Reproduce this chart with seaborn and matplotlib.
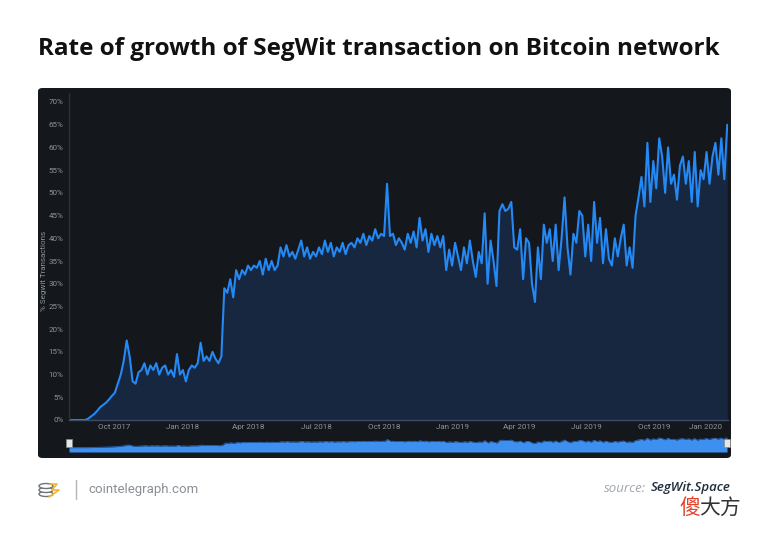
import numpy as np
import pandas as pd
import seaborn as sns
import matplotlib.pyplot as plt
from matplotlib.patches import FancyBboxPatch, Rectangle, Ellipse
from matplotlib.ticker import FuncFormatter

# % of SegWit transactions, one value every 4 days
seg_2017 = [0, 0, 0, 0, 0, 0,
            0, 0.3, 0.8, 1.3, 2, 2.8, 3.3, 3.8, 4.5, 5.3,
            6, 8, 10, 13, 17.5, 14, 8.5, 8,
            10.5, 11, 12.5, 10, 12, 11, 12.5,
            10, 11.5, 12, 10, 11, 9.5, 14.5, 10]
seg_2018 = [11, 8.5, 11, 12, 11.5, 12.5, 17, 13,
            14, 13, 15, 13.5, 12.5, 14, 29,
            28, 31, 27, 33, 31, 33, 32, 34,
            33, 34, 33.5, 35, 32, 35.5, 33,
            35, 33, 34, 38, 36, 38.5, 36, 37,
            35.5, 37.5, 39.5, 36, 38, 35.5, 37,
            36, 38, 36.5, 39.5, 37, 39, 36, 38,
            37, 39, 36.5, 38.5, 39, 38, 40, 39,
            41, 38.5, 40.5, 39.5, 42, 40, 41,
            40.5, 52, 40.5, 41, 38.5, 40, 39, 37.5,
            41, 39, 41.5, 38, 44.5, 39.5, 42, 37,
            41, 38.5, 40.5, 38, 40.5, 33, 37.5]
seg_2019 = [34, 39, 36, 33, 38, 34.5, 39.5, 35,
            31.5, 37, 34.5, 45.5, 30, 39.5, 35,
            29.5, 46, 47.5, 46, 46.5, 48, 38, 37.5,
            42, 31, 40, 39, 30, 26, 38,
            31, 43, 39, 42, 35, 43, 33, 40,
            49, 38, 32, 41, 39, 46, 45, 36,
            43, 35, 48, 39, 44.5, 34.5, 42,
            35.5, 34, 40, 36, 40, 43, 34, 38,
            33.5, 45, 49, 53.5, 47, 61, 48, 57,
            51, 62, 58, 50, 60, 52, 54,
            48.5, 56, 58, 52, 57, 48, 59, 47,
            55, 53, 59, 52, 58, 61, 54, 62]
seg_2020 = [53, 65]

tick_dates = ["2017-10-01", "2018-01-01", "2018-04-01", "2018-07-01", "2018-10-01",
              "2019-01-01", "2019-04-01", "2019-07-01", "2019-10-01", "2020-01-01"]
tick_labels = ["Oct 2017", "Jan 2018", "Apr 2018", "Jul 2018", "Oct 2018",
               "Jan 2019", "Apr 2019", "Jul 2019", "Oct 2019", "Jan 2020"]

dates = np.concatenate([
    pd.date_range("2017-07-30", periods=len(seg_2017), freq="4D"),
    pd.date_range("2018-01-02", periods=len(seg_2018), freq="4D"),
    pd.date_range("2019-01-01", periods=len(seg_2019), freq="4D"),
    pd.date_range("2020-01-04", periods=len(seg_2020), freq="4D"),
])
df = pd.DataFrame({"date": pd.to_datetime(dates),
                   "pct": seg_2017 + seg_2018 + seg_2019 + seg_2020})

sns.set_style("dark")
plt.rcParams["font.family"] = ["Roboto", "DejaVu Sans"]

W, H = 768, 545
fig = plt.figure(figsize=(W / 100, H / 100), dpi=100, facecolor="white")

def fx(px):
    return px / W

def fy(py):
    return 1 - py / H

# dark panel
panel = FancyBboxPatch((fx(38), fy(458)), fx(731) - fx(38), fy(88) - fy(458),
                       boxstyle="round,pad=0,rounding_size=0.006",
                       transform=fig.transFigure, facecolor="#14171b",
                       edgecolor="none", zorder=0)
fig.add_artist(panel)

# main chart
ax = fig.add_axes([fx(69), fy(420), fx(728) - fx(69), fy(102) - fy(420)])
ax.set_facecolor("none")
ax.fill_between(df["date"], df["pct"], 0, color="#172740", lw=0, zorder=1)
sns.lineplot(data=df, x="date", y="pct", ax=ax, color="#2489f5", lw=1.5, zorder=2)
ax.set_xlim(pd.Timestamp("2017-08-01"), pd.Timestamp("2020-01-09"))
ax.set_ylim(0, 70)
ax.set_yticks(range(0, 71, 5))
ax.yaxis.set_major_formatter(FuncFormatter(lambda v, p: f"{int(v)}%"))
ax.set_xticks(pd.to_datetime(tick_dates))
ax.set_xticklabels(tick_labels)
ax.get_xticklabels()[-1].set_ha("right")
ax.tick_params(axis="both", length=0, labelsize=5.8, colors="#8d949c")
ax.tick_params(axis="y", pad=4)
ax.tick_params(axis="x", pad=3)
ax.set_xlabel("")
ax.set_ylabel("% Segwit Transactions", fontsize=5.8, color="#8d949c")
ax.yaxis.set_label_coords(-0.033, 0.47)
ax.grid(False)
for s in ["top", "right"]:
    ax.spines[s].set_visible(False)
ax.spines["left"].set_color("#2c3238")
ax.spines["left"].set_bounds(0, 72)
ax.spines["bottom"].set_color("#3b4d66")
ax.spines["left"].set_linewidth(1)
ax.spines["bottom"].set_linewidth(1)

# navigator
nav = fig.add_axes([fx(69), fy(452), fx(727) - fx(69), fy(437) - fy(452)])
nav.set_facecolor("none")
nav.fill_between(df["date"], df["pct"], -28, color="#3d8ff0", lw=0)
nav.plot(df["date"], df["pct"], color="#2a66b8", lw=0.6)
nav.set_xlim(df["date"].iloc[0], df["date"].iloc[-1])
nav.set_ylim(-28, 68)
nav.set_xticks([])
nav.set_yticks([])
for s in nav.spines.values():
    s.set_visible(False)
for hx in [0, 1]:
    nav.add_patch(Rectangle((hx - 0.004, 0.35), 0.008, 0.55, transform=nav.transAxes,
                            facecolor="#e6e6e6", edgecolor="#888888", lw=0.5,
                            clip_on=False, zorder=5))

# title
fig.text(fx(38), fy(49), "Rate of growth of SegWit transaction on Bitcoin network",
         fontsize=17.5, fontweight="bold", family=["Open Sans", "DejaVu Sans"],
         color="#111111", va="center", ha="left")

# footer logo (simple coin stack + bolt)
logo = fig.add_axes([fx(37), fy(499), fx(61) - fx(37), fy(478) - fy(499)])
logo.set_xlim(0, 24)
logo.set_ylim(0, 21)
logo.axis("off")
for cy in [5, 9, 13]:
    logo.add_patch(Ellipse((9, cy), 14, 5, facecolor="white", edgecolor="#6d7378", lw=1))
logo.plot([13, 20, 15, 22, 12], [15, 15, 9, 9, 2], color="#f2b632", lw=1.2)
fig.add_artist(plt.Line2D([fx(76), fx(76)], [fy(480), fy(499)], color="#b5b5b5",
                          lw=1, transform=fig.transFigure))
fig.text(fx(88), fy(489), "cointelegraph.com", fontsize=9.5, color="#8a9096",
         va="center", ha="left")

fig.text(fx(646), fy(488), "source:", fontsize=9.5, style="italic", color="#a0a7ae",
         va="center", ha="right", family=["Open Sans", "DejaVu Sans"])
fig.text(fx(731), fy(488), "SegWit.Space", fontsize=9.5, style="italic",
         fontweight="semibold", color="#22303e",
         va="center", ha="right", family=["Open Sans", "DejaVu Sans"])

fig.text(fx(679), fy(508), "傻", fontsize=15, color="#e5402b",
         family=["Noto Sans CJK SC", "DejaVu Sans"], va="center", ha="left")
fig.text(fx(699), fy(508), "大方", fontsize=15, color="#333333",
         family=["Noto Sans CJK SC", "DejaVu Sans"], va="center", ha="left")

fig.savefig("out.png", dpi=100, facecolor="white")
